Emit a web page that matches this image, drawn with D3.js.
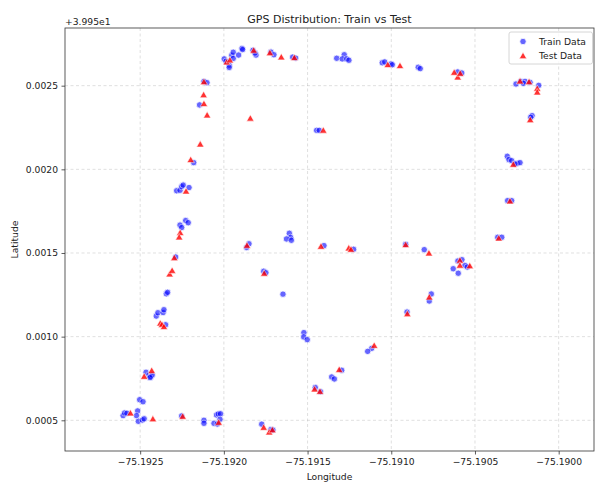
<!DOCTYPE html>
<html>
<head>
<meta charset="utf-8">
<script src="https://cdn.jsdelivr.net/npm/d3@7"></script>
<style>
  body { margin: 0; background: white; }
  text { font-family: "DejaVu Sans", sans-serif; fill: #222; }
</style>
</head>
<body>
<div id="chart"></div>
<script>
// train points: longitude / latitude
const trainLon = [
  -75.191998, -75.191987, -75.191968, -75.191968, -75.191953, -75.191944, -75.191944, -75.191912,
  -75.191892, -75.191888, -75.191826, -75.191808, -75.191814, -75.191719, -75.191701, -75.191589,
  -75.191571, -75.191326, -75.191281, -75.191293, -75.191266, -75.191253, -75.191054, -75.191039,
  -75.191002, -75.190994, -75.190839, -75.190827, -75.190603, -75.190579, -75.190255, -75.190227,
  -75.190201, -75.190211, -75.190171, -75.190119, -75.190159, -75.190167, -75.190307, -75.190297,
  -75.190281, -75.190247, -75.190231, -75.190261, -75.190305, -75.190281, -75.190364, -75.190340,
  -75.192119, -75.192101, -75.192145, -75.192180, -75.192282, -75.192262, -75.192252, -75.192243,
  -75.192208, -75.192228, -75.192213, -75.192262, -75.192252, -75.192288, -75.192344, -75.192336,
  -75.192404, -75.192394, -75.192363, -75.192358, -75.192348, -75.192465, -75.192447, -75.192436,
  -75.192428, -75.192441, -75.192503, -75.192483, -75.192602, -75.192593, -75.192579, -75.192515,
  -75.192522, -75.192511, -75.192487, -75.192476, -75.192252, -75.192119, -75.192119, -75.192044,
  -75.192033, -75.192020, -75.192023, -75.192059, -75.192039, -75.191774, -75.191719, -75.191707,
  -75.191446, -75.191430, -75.191609, -75.191601, -75.191626, -75.191597, -75.191850, -75.191864,
  -75.191762, -75.191749, -75.191647, -75.191522, -75.191523, -75.191502, -75.191454, -75.191423,
  -75.191356, -75.191340, -75.191296, -75.191117, -75.191141, -75.190906, -75.190761, -75.190773,
  -75.191225, -75.191402, -75.190914, -75.190803, -75.190630, -75.190600, -75.190602, -75.190578,
  -75.190560, -75.190546
];
const trainLat = [
  39.952660, 39.952646, 39.952622, 39.952609, 39.952682, 39.952700, 39.952663, 39.952683,
  39.952723, 39.952716, 39.952712, 39.952683, 39.952695, 39.952701, 39.952685, 39.952671,
  39.952665, 39.952664, 39.952685, 39.952660, 39.952660, 39.952652, 39.952637, 39.952642,
  39.952630, 39.952625, 39.952610, 39.952602, 39.952582, 39.952576, 39.952510, 39.952526,
  39.952526, 39.952514, 39.952520, 39.952502, 39.952321, 39.952311, 39.952078, 39.952058,
  39.952052, 39.952036, 39.952040, 39.952032, 39.951813, 39.951813, 39.951594, 39.951594,
  39.952526, 39.952518, 39.952385, 39.952040, 39.951872, 39.951875, 39.951897, 39.951906,
  39.951891, 39.951694, 39.951681, 39.951667, 39.951652, 39.951476, 39.951256, 39.951265,
  39.951123, 39.951143, 39.951144, 39.951161, 39.951071, 39.950787, 39.950771, 39.950761,
  39.950771, 39.950755, 39.950623, 39.950611, 39.950528, 39.950544, 39.950542, 39.950556,
  39.950528, 39.950494, 39.950502, 39.950509, 39.950526, 39.950500, 39.950482, 39.950532,
  39.950538, 39.950539, 39.950506, 39.950482, 39.950478, 39.950477, 39.950445, 39.950442,
  39.952233, 39.952233, 39.951618, 39.951593, 39.951584, 39.951576, 39.951555, 39.951533,
  39.951391, 39.951382, 39.951254, 39.951024, 39.950998, 39.950982, 39.950696, 39.950671,
  39.950759, 39.950747, 39.950799, 39.950930, 39.950912, 39.951147, 39.951255, 39.951213,
  39.951522, 39.951544, 39.951552, 39.951520, 39.951406, 39.951379, 39.951452, 39.951460,
  39.951426, 39.951416
];

// test points
const testLon = [
  -75.191983, -75.191964, -75.191822, -75.191725, -75.191657, -75.191579, -75.191021, -75.190948,
  -75.190624, -75.190603, -75.190588, -75.190231, -75.190177, -75.190128, -75.190128, -75.190170,
  -75.190271, -75.190291, -75.190358, -75.192119, -75.192121, -75.192119, -75.192100, -75.191842,
  -75.192141, -75.192198, -75.192226, -75.192261, -75.192267, -75.192296, -75.192324, -75.192309,
  -75.192380, -75.192370, -75.192358, -75.192431, -75.192476, -75.192558, -75.192424, -75.192246,
  -75.192031, -75.191762, -75.191729, -75.191710, -75.191406, -75.191862, -75.191759, -75.191420,
  -75.191254, -75.191241, -75.190914, -75.190775, -75.190590, -75.190590, -75.190531, -75.190773,
  -75.190904, -75.191102, -75.191311, -75.191458, -75.191426
];
const testLat = [
  39.952640, 39.952652, 39.952710, 39.952695, 39.952670, 39.952666, 39.952624, 39.952618,
  39.952578, 39.952550, 39.952572, 39.952526, 39.952522, 39.952482, 39.952460, 39.952295,
  39.952028, 39.951809, 39.951587, 39.952522, 39.952444, 39.952391, 39.952323, 39.952304,
  39.952149, 39.952056, 39.951868, 39.951620, 39.951594, 39.951470, 39.951373, 39.951394,
  39.951079, 39.951071, 39.951058, 39.950796, 39.950761, 39.950542, 39.950507, 39.950522,
  39.950486, 39.950456, 39.950428, 39.950441, 39.952232, 39.951544, 39.951377, 39.951538,
  39.951528, 39.951520, 39.951548, 39.951498, 39.951455, 39.951425, 39.951422, 39.951235,
  39.951135, 39.950946, 39.950802, 39.950685, 39.950671
];

const xTicks = [-75.1925, -75.1920, -75.1915, -75.1910, -75.1905, -75.1900];
const yTicks = [0.0005, 0.0010, 0.0015, 0.0020, 0.0025];
const latOffset = 39.95;
const seriesNames = ["Train Data", "Test Data"];

const width = 595, height = 485;
const margin = {top: 28, right: 1, bottom: 34, left: 65};

const svg = d3.select("#chart").append("svg")
  .attr("width", width)
  .attr("height", height);

const x = d3.scaleLinear()
  .domain([-75.192949, -75.189789])
  .range([margin.left, width - margin.right]);

const y = d3.scaleLinear()
  .domain([0.0003165, 0.0028448])
  .range([height - margin.bottom, margin.top]);

// grid
const grid = svg.append("g")
  .attr("stroke", "#b0b0b0")
  .attr("stroke-opacity", 0.5)
  .attr("stroke-width", 0.8)
  .attr("stroke-dasharray", "3,2.5");

grid.selectAll(".gx").data(xTicks).enter().append("line")
  .attr("x1", d => x(d)).attr("x2", d => x(d))
  .attr("y1", margin.top).attr("y2", height - margin.bottom);

grid.selectAll(".gy").data(yTicks).enter().append("line")
  .attr("x1", margin.left).attr("x2", width - margin.right)
  .attr("y1", d => y(d)).attr("y2", d => y(d));

// points
const train = trainLon.map((d, i) => ({lon: d, lat: trainLat[i] - latOffset}));
const test = testLon.map((d, i) => ({lon: d, lat: testLat[i] - latOffset}));

svg.append("g").selectAll("circle")
  .data(train).enter().append("circle")
  .attr("cx", d => x(d.lon))
  .attr("cy", d => y(d.lat))
  .attr("r", 3.2)
  .attr("fill", "blue")
  .attr("stroke", "white")
  .attr("stroke-width", 0.8)
  .attr("opacity", 0.6);

const tri = d3.symbol().type(d3.symbolTriangle).size(24);

svg.append("g").selectAll("path")
  .data(test).enter().append("path")
  .attr("d", tri)
  .attr("transform", d => `translate(${x(d.lon)},${y(d.lat) + 0.5})`)
  .attr("fill", "red")
  .attr("stroke", "white")
  .attr("stroke-width", 0.6)
  .attr("opacity", 0.8);

// axes
const xAxis = svg.append("g")
  .attr("transform", `translate(0,${height - margin.bottom})`)
  .call(d3.axisBottom(x).tickValues(xTicks).tickSize(3.5).tickPadding(3.5)
    .tickFormat(d => d3.format(".4f")(d).replace("-", "\u2212")));

const yAxis = svg.append("g")
  .attr("transform", `translate(${margin.left},0)`)
  .call(d3.axisLeft(y).tickValues(yTicks).tickSize(3.5).tickPadding(3.5)
    .tickFormat(d3.format(".4f")));

[xAxis, yAxis].forEach(a => {
  a.select(".domain").remove();
  a.selectAll("line").attr("stroke", "#333").attr("stroke-width", 0.8);
  a.selectAll("text").style("font-size", "9.2px").style("font-family", "DejaVu Sans").attr("fill", "#222");
});

// frame
svg.append("rect")
  .attr("x", margin.left).attr("y", margin.top)
  .attr("width", width - margin.right - margin.left)
  .attr("height", height - margin.bottom - margin.top)
  .attr("fill", "none")
  .attr("stroke", "#333")
  .attr("stroke-width", 0.8);

// offset text
svg.append("text")
  .attr("x", margin.left)
  .attr("y", 25)
  .style("font-size", "9.2px")
  .text("+3.995e1");

// title
svg.append("text")
  .attr("x", (margin.left + width - margin.right) / 2)
  .attr("y", 23)
  .attr("text-anchor", "middle")
  .style("font-size", "11px")
  .text("GPS Distribution: Train vs Test");

svg.append("text")
  .attr("x", (margin.left + width - margin.right) / 2)
  .attr("y", 480)
  .attr("text-anchor", "middle")
  .style("font-size", "9.2px")
  .text("Longitude");

svg.append("text")
  .attr("transform", `translate(18,${(margin.top + height - margin.bottom) / 2}) rotate(-90)`)
  .attr("text-anchor", "middle")
  .style("font-size", "9.2px")
  .text("Latitude");

// legend
const legend = svg.append("g").attr("transform", "translate(509,32)");
legend.append("rect")
  .attr("width", 83.5).attr("height", 32)
  .attr("rx", 2)
  .attr("fill", "white").attr("fill-opacity", 0.8)
  .attr("stroke", "#ccc").attr("stroke-width", 0.8);

legend.append("circle")
  .attr("cx", 14).attr("cy", 9.5).attr("r", 3.2)
  .attr("fill", "blue").attr("stroke", "white").attr("stroke-width", 0.8).attr("opacity", 0.6);
legend.append("path")
  .attr("d", tri)
  .attr("transform", "translate(14,24.5)")
  .attr("fill", "red").attr("stroke", "white").attr("stroke-width", 0.6).attr("opacity", 0.8);

seriesNames.forEach((name, i) => {
  legend.append("text")
    .attr("x", 30)
    .attr("y", 12.8 + i * 14.5)
    .style("font-size", "9.2px")
    .text(name);
});
</script>
</body>
</html>
